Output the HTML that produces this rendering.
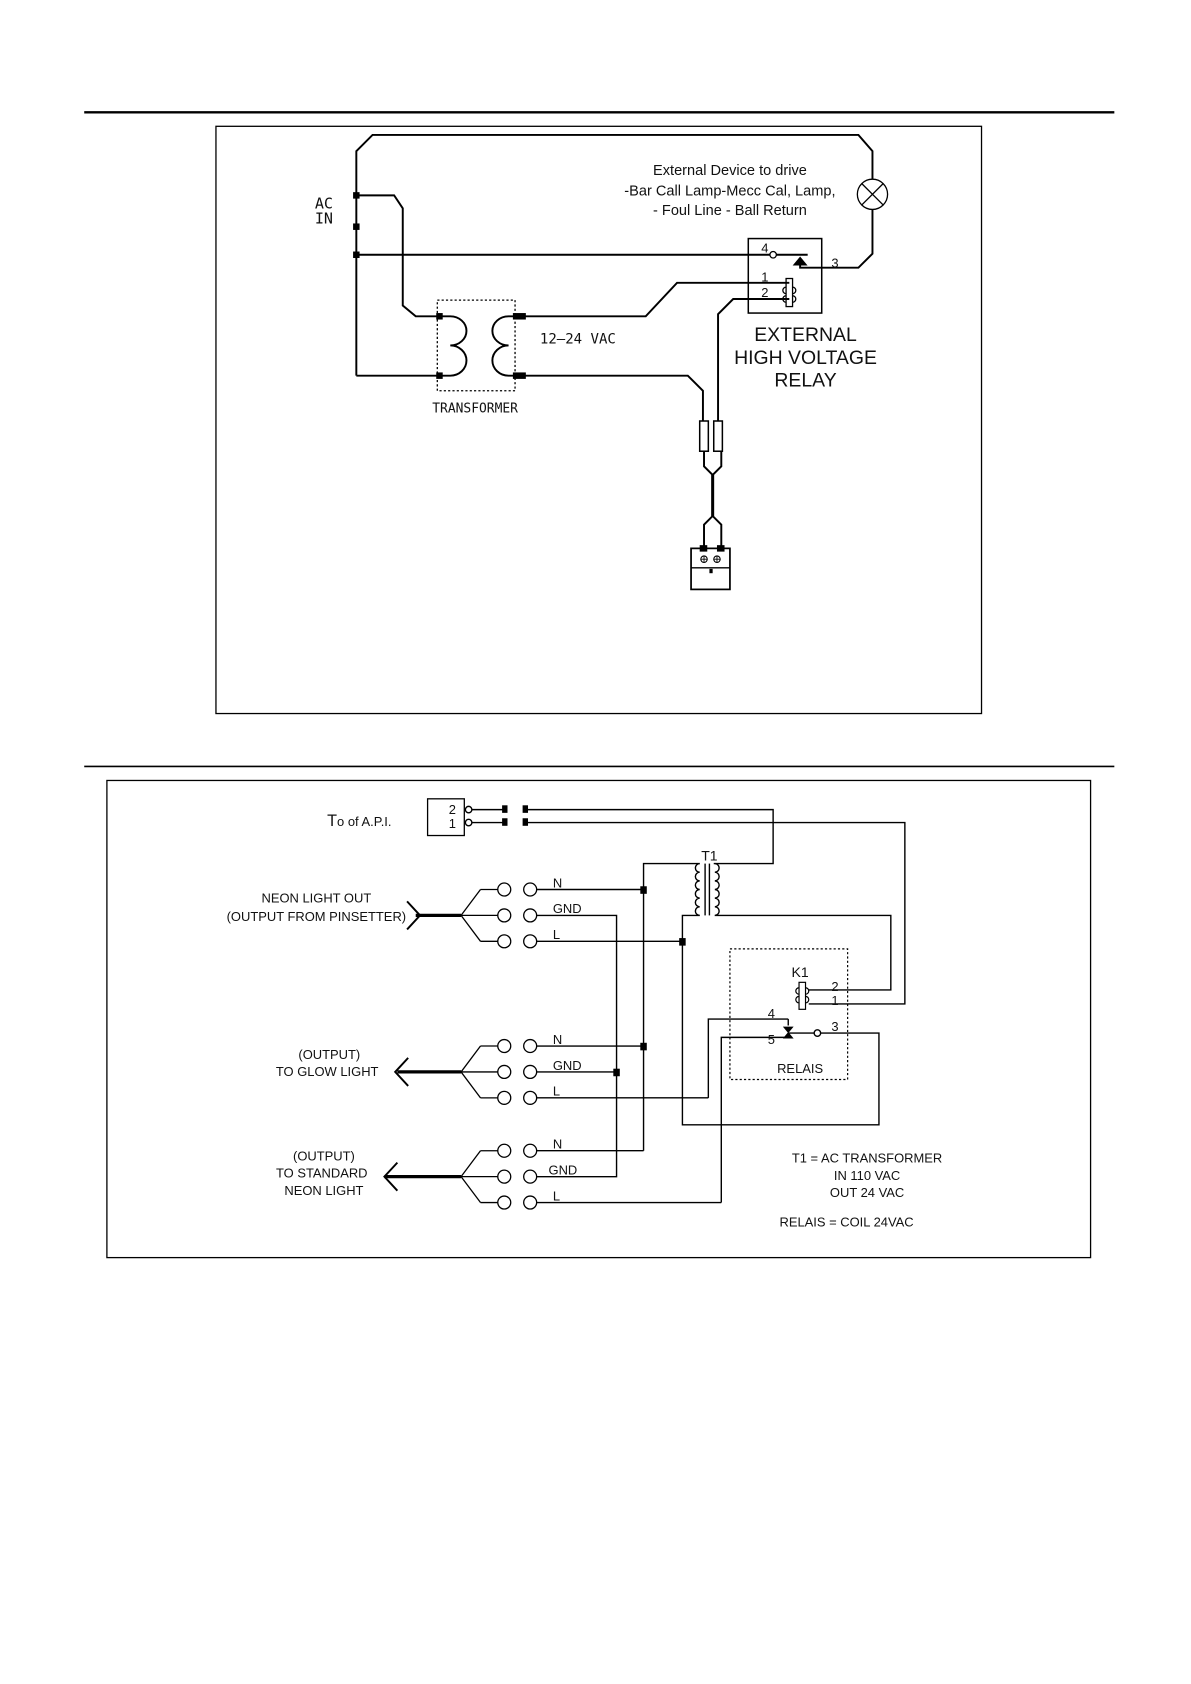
<!DOCTYPE html>
<html><head><meta charset="utf-8"><style>
html,body{margin:0;padding:0;background:#fff}
svg{display:block}
text{font-family:"Liberation Sans",sans-serif;fill:#111}
</style></head><body>
<svg width="1191" height="1684" viewBox="0 0 1103 1560" preserveAspectRatio="none" xmlns="http://www.w3.org/2000/svg">
<g stroke="#000" fill="none" stroke-width="1.8">
<line x1="78" y1="104" x2="1032" y2="104" stroke-width="2.2"/>
<rect x="200" y="117" width="709" height="544" stroke-width="1.2"/>
<polyline points="330,348 330,140 345,125 795,125 808,140 808,166"/>
<circle cx="808" cy="180" r="14" stroke-width="1.2"/>
<line x1="798" y1="170" x2="818" y2="190" stroke-width="1.2"/>
<line x1="818" y1="170" x2="798" y2="190" stroke-width="1.2"/>
<polyline points="808,194 808,235 795,248 741,248 741,243"/>
<polygon points="736,245 746,245 741,239" fill="#000"/>
<polyline points="330,181 365,181 373,193 373,283 385,293 407,293"/>
<polyline points="330,236 713,236"/>
<circle cx="716" cy="236" r="3" stroke-width="1.2"/>
<line x1="719" y1="236" x2="748" y2="236"/>
<polyline points="330,348 407,348"/>
<rect x="693" y="221" width="68" height="69" stroke-width="1.4"/>
<rect x="728" y="258" width="6" height="26" stroke-width="1.2"/>
<path d="M728,266 a3,3 0 0 0 0,6 M734,266 a3,3 0 0 1 0,6 M728,274 a3,3 0 0 0 0,6 M734,274 a3,3 0 0 1 0,6" stroke-width="1.2"/>
<polyline points="481,293 598,293 627,262 731,262"/>
<polyline points="731,277 679,277 665,291 665,390"/>
<polyline points="481,348 637,348 651,362 651,390"/>
<rect x="405" y="278" width="72" height="84" stroke-dasharray="2,2" stroke-width="1.2"/>
<path d="M407,293 h10 a15,13.5 0 0 1 0,27 a15,14 0 0 1 0,28 h-10"/>
<path d="M481,293 h-10 a15,13.5 0 0 0 0,27 a15,14 0 0 0 0,28 h10"/>
<rect x="648" y="390" width="8" height="28" stroke-width="1.4"/>
<rect x="661" y="390" width="8" height="28" stroke-width="1.4"/>
<polyline points="652,418 652,432 660,440 668,432 668,418"/>
<line x1="660" y1="440" x2="660" y2="478" stroke-width="2.8"/>
<polyline points="652,508 652,486 660,478 668,486 668,508"/>
<rect x="640" y="508" width="36" height="38" stroke-width="1.6"/>
<line x1="640" y1="526" x2="676" y2="526" stroke-width="1.2"/>
<circle cx="652" cy="518" r="3" stroke-width="1"/><circle cx="664" cy="518" r="3" stroke-width="1"/>
<path d="M649,518h6M652,515v6M661,518h6M664,515v6" stroke-width="0.8"/>
</g>
<g fill="#000">
<rect x="327" y="178" width="6" height="6"/><rect x="327" y="207" width="6" height="6"/><rect x="327" y="233" width="6" height="6"/>
<rect x="404" y="290" width="6" height="6"/><rect x="404" y="345" width="6" height="6"/>
<rect x="475" y="290" width="12" height="6"/><rect x="475" y="345" width="12" height="6"/>
<rect x="648" y="505" width="7" height="6"/><rect x="664" y="505" width="7" height="6"/>
<rect x="657" y="527" width="3" height="4"/>
</g>
<g>
<text x="300" y="193" font-size="14" text-anchor="middle" style="font-family:'DejaVu Sans Mono',monospace">AC</text>
<text x="300" y="207" font-size="14" text-anchor="middle" style="font-family:'DejaVu Sans Mono',monospace">IN</text>
<text x="500" y="318" font-size="13" style="font-family:'DejaVu Sans Mono',monospace">12–24  VAC</text>
<text x="440" y="382" font-size="12" text-anchor="middle" style="font-family:'DejaVu Sans Mono',monospace">TRANSFORMER</text>
<text x="705" y="234" font-size="12">4</text>
<text x="705" y="261" font-size="12">1</text>
<text x="705" y="275" font-size="12">2</text>
<text x="770" y="248" font-size="12">3</text>
</g>
<text x="676" y="162" font-size="13.5" text-anchor="middle">External Device to drive</text>
<text x="676" y="181" font-size="13.5" text-anchor="middle">-Bar Call Lamp-Mecc Cal, Lamp,</text>
<text x="676" y="199" font-size="13.5" text-anchor="middle">- Foul Line - Ball Return</text>
<text x="746" y="316" font-size="18" text-anchor="middle">EXTERNAL</text>
<text x="746" y="337" font-size="18" text-anchor="middle">HIGH VOLTAGE</text>
<text x="746" y="358" font-size="18" text-anchor="middle">RELAY</text>

<g stroke="#000" fill="none" stroke-width="1.3">
<line x1="78" y1="710" x2="1032" y2="710" stroke-width="1.4"/>
<rect x="99" y="723" width="911" height="442" stroke-width="1.2"/>
<rect x="396" y="740" width="34" height="34" stroke-width="1.2"/>
<circle cx="434" cy="750" r="3"/><circle cx="434" cy="762" r="3"/>
<line x1="437" y1="750" x2="468" y2="750"/><line x1="437" y1="762" x2="468" y2="762"/>
<polyline points="486,750 716,750 716,800 661,800"/>
<polyline points="486,762 838,762 838,930 749,930"/>
<line x1="653" y1="800" x2="653" y2="848"/><line x1="657" y1="800" x2="657" y2="848"/>
<path d="M648,800 a4,4 0 0 0 0,8 a4,4 0 0 0 0,8 a4,4 0 0 0 0,8 a4,4 0 0 0 0,8 a4,4 0 0 0 0,8 a4,4 0 0 0 0,8"/>
<path d="M662,800 a4,4 0 0 1 0,8 a4,4 0 0 1 0,8 a4,4 0 0 1 0,8 a4,4 0 0 1 0,8 a4,4 0 0 1 0,8 a4,4 0 0 1 0,8"/>
<polyline points="648,800 596,800 596,1066"/>
<polyline points="648,848 632,848 632,1042 814,1042 814,957 760,957"/>
<polyline points="662,848 825,848 825,917 749,917"/>
<rect x="676" y="879" width="109" height="121" stroke-dasharray="2,2" stroke-width="1.1"/>
<rect x="740" y="910" width="6" height="25" stroke-width="1.1"/>
<path d="M740,915 a3,3 0 0 0 0,6 M746,915 a3,3 0 0 1 0,6 M740,923 a3,3 0 0 0 0,6 M746,923 a3,3 0 0 1 0,6" stroke-width="1.1"/>
<circle cx="757" cy="957" r="3"/>
<line x1="730" y1="957" x2="754" y2="957"/>
<polyline points="730,944 656,944 656,1017"/>
<polyline points="730,961 668,961 668,1114"/>
<line x1="730" y1="944" x2="730" y2="950"/>
<line x1="497" y1="824" x2="596" y2="824"/>
<polyline points="497,848 571,848 571,1090 497,1090"/>
<line x1="497" y1="872" x2="632" y2="872"/>
<line x1="497" y1="969" x2="596" y2="969"/>
<line x1="497" y1="993" x2="571" y2="993"/>
<line x1="497" y1="1017" x2="656" y2="1017"/>
<line x1="497" y1="1066" x2="596" y2="1066"/>
<line x1="497" y1="1114" x2="668" y2="1114"/>
</g>
<g fill="#000">
<rect x="465" y="746" width="5" height="7"/><rect x="465" y="758" width="5" height="7"/>
<rect x="484" y="746" width="5" height="7"/><rect x="484" y="758" width="5" height="7"/>
<rect x="593" y="821" width="6" height="7"/><rect x="629" y="869" width="6" height="7"/>
<rect x="593" y="966" width="6" height="7"/><rect x="568" y="990" width="6" height="7"/>
<polygon points="725,951 735,951 730,957"/><polygon points="725,962 735,962 730,956"/>
</g>
<g stroke="#000" fill="#fff" stroke-width="1.2">
<g id="g1">
<line x1="427" y1="848" x2="445" y2="824" fill="none"/><line x1="445" y1="824" x2="461" y2="824"/>
<line x1="427" y1="848" x2="461" y2="848"/>
<line x1="427" y1="848" x2="445" y2="872" fill="none"/><line x1="445" y1="872" x2="461" y2="872"/>
<circle cx="467" cy="824" r="6"/><circle cx="491" cy="824" r="6"/>
<circle cx="467" cy="848" r="6"/><circle cx="491" cy="848" r="6"/>
<circle cx="467" cy="872" r="6"/><circle cx="491" cy="872" r="6"/>
</g>
<use href="#g1" y="145"/>
<use href="#g1" y="242"/>
</g>
<g stroke="#000" fill="none">
<line x1="385" y1="848" x2="427" y2="848" stroke-width="3"/>
<polyline points="377,835 389,848 377,861" stroke-width="1.8"/>
<line x1="368" y1="993" x2="427" y2="993" stroke-width="3"/>
<polyline points="378,980 366,993 378,1006" stroke-width="1.8"/>
<line x1="356" y1="1090" x2="427" y2="1090" stroke-width="3"/>
<polyline points="368,1077 356,1090 368,1103" stroke-width="1.8"/>
</g>
<g font-size="12">
<text x="419" y="754" text-anchor="middle">2</text>
<text x="419" y="767" text-anchor="middle">1</text>
<text x="303" y="765" font-size="15">T<tspan font-size="12">o of A.P.I.</tspan></text>
<text x="657" y="797" text-anchor="middle" font-size="13">T1</text>
<text x="512" y="822">N</text><text x="512" y="846">GND</text><text x="512" y="870">L</text>
<text x="512" y="967">N</text><text x="512" y="991">GND</text><text x="512" y="1015">L</text>
<text x="512" y="1064">N</text><text x="508" y="1088">GND</text><text x="512" y="1112">L</text>
<text x="741" y="905" text-anchor="middle" font-size="13">K1</text>
<text x="770" y="918">2</text><text x="770" y="931">1</text>
<text x="711" y="943">4</text><text x="711" y="967">5</text><text x="770" y="955">3</text>
<text x="741" y="994" text-anchor="middle">RELAIS</text>
<text x="293" y="836" text-anchor="middle">NEON LIGHT OUT</text>
<text x="293" y="853" text-anchor="middle">(OUTPUT FROM PINSETTER)</text>
<text x="305" y="981" text-anchor="middle">(OUTPUT)</text>
<text x="303" y="997" text-anchor="middle">TO GLOW LIGHT</text>
<text x="300" y="1075" text-anchor="middle">(OUTPUT)</text>
<text x="298" y="1091" text-anchor="middle">TO STANDARD</text>
<text x="300" y="1107" text-anchor="middle">NEON LIGHT</text>
<text x="803" y="1077" text-anchor="middle">T1 = AC TRANSFORMER</text>
<text x="803" y="1093" text-anchor="middle">IN 110 VAC</text>
<text x="803" y="1109" text-anchor="middle">OUT 24 VAC</text>
<text x="784" y="1136" text-anchor="middle">RELAIS = COIL 24VAC</text>
</g>
</svg>
</body></html>
